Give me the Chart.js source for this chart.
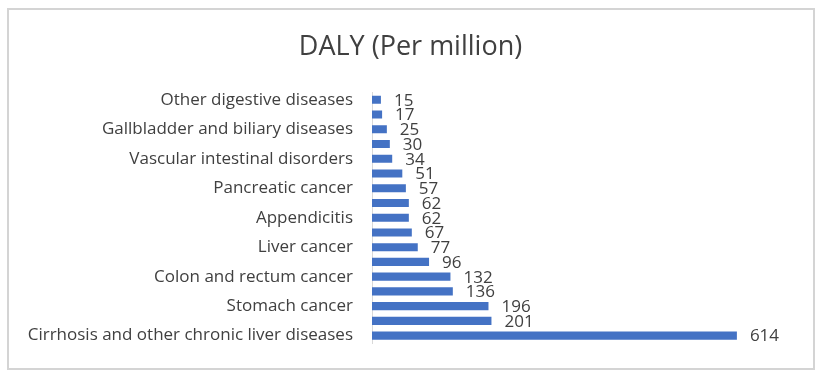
<!DOCTYPE html>
<html>
<head>
<meta charset="utf-8">
<script src="https://cdn.jsdelivr.net/npm/chart.js@4/dist/chart.umd.min.js"></script>
<style>
  html, body { margin: 0; padding: 0; background: #ffffff; }
  #wrap { position: relative; width: 821px; height: 377px; }
  #frame { position: absolute; left: 7px; top: 8px; width: 804px; height: 358px; border: 2px solid #d4d4d4; box-sizing: content-box; }
  canvas { position: absolute; left: 0; top: 0; }
</style>
</head>
<body>
<div id="wrap">
  <div id="frame"></div>
  <canvas id="c" width="821" height="377"></canvas>
</div>
<script>
const titleText = 'DALY (Per million)';
const categories = [
  'Other digestive diseases',
  'Gallbladder and biliary tract cancer',
  'Gallbladder and biliary diseases',
  'Inflammatory bowel disease',
  'Vascular intestinal disorders',
  'Inguinal, femoral, and abdominal hernia',
  'Pancreatic cancer',
  'Gastritis and duodenitis',
  'Appendicitis',
  'Pancreatitis',
  'Liver cancer',
  'Paralytic ileus and intestinal obstruction',
  'Colon and rectum cancer',
  'Esophageal cancer',
  'Stomach cancer',
  'Peptic ulcer disease',
  'Cirrhosis and other chronic liver diseases'
];
const dalyValues = [15, 17, 25, 30, 34, 51, 57, 62, 62, 67, 77, 96, 132, 136, 196, 201, 614];

const TEXT = '#404040';
const FONT = '"Open Sans", sans-serif';

const valueLabels = {
  id: 'valueLabels',
  afterDatasetsDraw(chart) {
    const ctx = chart.ctx;
    const meta = chart.getDatasetMeta(0);
    ctx.save();
    ctx.fillStyle = TEXT;
    ctx.font = '17px ' + FONT;
    ctx.textAlign = 'left';
    ctx.textBaseline = 'middle';
    meta.data.forEach((bar, i) => {
      ctx.fillText(String(dalyValues[i]), bar.x + 13, bar.y + 1);
    });
    ctx.restore();
  }
};

// centre the title over the whole canvas rather than the padded area
const centreTitle = {
  id: 'centreTitle',
  afterLayout(chart) {
    const t = chart.titleBlock;
    if (t) { t.left = 0; t.right = chart.width; t.width = chart.width; }
  }
};

new Chart(document.getElementById('c'), {
  type: 'bar',
  data: {
    labels: categories,
    datasets: [{
      data: dalyValues,
      backgroundColor: '#4472C4',
      borderWidth: 0,
      barPercentage: 0.55,
      categoryPercentage: 1.0
    }]
  },
  options: {
    indexAxis: 'y',
    responsive: false,
    animation: false,
    events: [],
    layout: { padding: { left: 0, right: 33, top: 0, bottom: 34 } },
    plugins: {
      legend: { display: false },
      tooltip: { enabled: false },
      title: {
        display: true,
        text: titleText,
        color: TEXT,
        font: { family: FONT, size: 27, weight: 'normal', lineHeight: 1.2 },
        padding: { top: 31, bottom: 29 }
      }
    },
    scales: {
      x: {
        display: false,
        min: 0,
        max: 700
      },
      y: {
        afterFit(scale) { scale.width = 372; },
        grid: { display: false, drawTicks: false },
        border: { display: true, color: '#d9d9d9', width: 1 },
        ticks: {
          autoSkip: false,
          color: TEXT,
          padding: 19,
          font: { family: FONT, size: 17 },
          callback(value, index) { return index % 2 === 0 ? categories[index] : ''; }
        }
      }
    }
  },
  plugins: [valueLabels, centreTitle]
});
</script>
</body>
</html>
